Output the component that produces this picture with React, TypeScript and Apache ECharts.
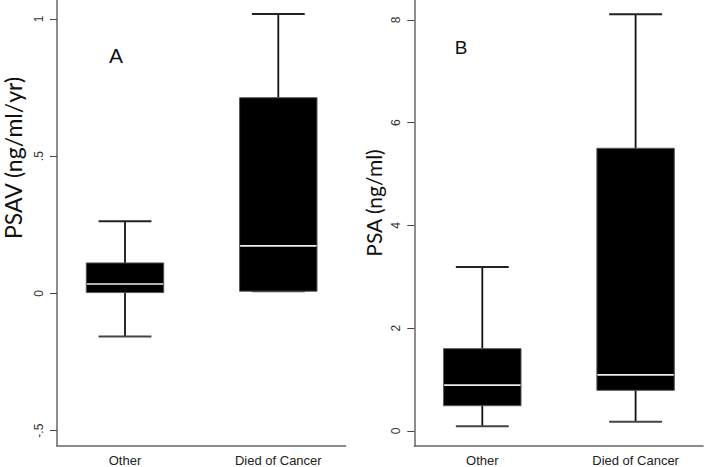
import React, { useEffect, useRef } from "react";
import * as echarts from "echarts";

const categories = ["Other", "Died of Cancer"];
const categoryPositions = [0, 1];

// [min, Q1, median, Q3, max]
const psavStats = [
  [-0.157, 0.003, 0.034, 0.111, 0.263],
  [0.008, 0.008, 0.173, 0.713, 1.018],
];
const psaStats = [
  [0.09, 0.49, 0.89, 1.6, 3.19],
  [0.18, 0.79, 1.09, 5.5, 8.11],
];

const psavTickValues = [-0.5, 0, 0.5, 1];
const psavTickLabels = ["-.5", "0", ".5", "1"];
const psaTickValues = [0, 2, 4, 6, 8];
const psaTickLabels = ["0", "2", "4", "6", "8"];

const psavTitle = "PSAV (ng/ml/yr)";
const psaTitle = "PSA (ng/ml)";
const panelLabels = ["A", "B"];

const renderBox = (params: any, api: any) => {
  const x = api.value(0);
  const pMin = api.coord([x, api.value(1)]);
  const pQ1 = api.coord([x, api.value(2)]);
  const pMed = api.coord([x, api.value(3)]);
  const pQ3 = api.coord([x, api.value(4)]);
  const pMax = api.coord([x, api.value(5)]);
  const unit = api.size([1, 0])[0];
  const boxW = unit * 0.505;
  const capW = unit * 0.345;
  const cx = pMed[0];
  return {
    type: "group",
    children: [
      {
        type: "line",
        shape: { x1: cx, y1: pMax[1], x2: cx, y2: pQ3[1] },
        style: { stroke: "#111", lineWidth: 1.8 },
      },
      {
        type: "line",
        shape: { x1: cx, y1: pMin[1], x2: cx, y2: pQ1[1] },
        style: { stroke: "#111", lineWidth: 1.8 },
      },
      {
        type: "line",
        shape: { x1: cx - capW / 2, y1: pMax[1], x2: cx + capW / 2, y2: pMax[1] },
        style: { stroke: "#222", lineWidth: 2 },
      },
      {
        type: "line",
        shape: { x1: cx - capW / 2, y1: pMin[1], x2: cx + capW / 2, y2: pMin[1] },
        style: { stroke: "#444", lineWidth: 2 },
      },
      {
        type: "rect",
        shape: { x: cx - boxW / 2, y: pQ3[1], width: boxW, height: pQ1[1] - pQ3[1] },
        style: { fill: "#000", stroke: "#555", lineWidth: 1 },
      },
      {
        type: "line",
        shape: { x1: cx - boxW / 2 + 0.5, y1: pMed[1], x2: cx + boxW / 2 - 0.5, y2: pMed[1] },
        style: { stroke: "#eeeeee", lineWidth: 1.6 },
      },
    ],
  };
};

const buildData = (stats: number[][]) =>
  stats.map((s, i) => [categoryPositions[i], ...s]);

const xAxisBase = (gridIndex: number) => ({
  type: "value",
  gridIndex,
  min: -0.4436,
  max: 1.4397,
  axisLine: { show: true, onZero: false, lineStyle: { color: "#666", width: 1.5 } },
  axisTick: { show: false },
  splitLine: { show: false },
  axisLabel: {
    customValues: categoryPositions,
    formatter: (v: number) => categories[Math.round(v)] ?? "",
    fontFamily: "Liberation Sans",
    fontSize: 13,
    color: "#222",
    margin: 8,
  },
});

export default function App() {
  const ref = useRef<HTMLDivElement>(null);
  useEffect(() => {
    if (!ref.current) return;
    const chart = echarts.init(ref.current, undefined, { renderer: "svg" });
    chart.setOption({
      animation: false,
      backgroundColor: "#fff",
      grid: [
        { left: 57, top: 0, width: 288.7, height: 448.5 },
        { left: 414.3, top: 0, width: 288.7, height: 448.5 },
      ],
      xAxis: [xAxisBase(0), xAxisBase(1)],
      yAxis: [
        {
          type: "value",
          gridIndex: 0,
          min: -0.556,
          max: 1.069,
          axisLine: { show: true, onZero: false, lineStyle: { color: "#666", width: 1.5 } },
          axisTick: { show: true, customValues: psavTickValues, length: 7, lineStyle: { color: "#444", width: 1 } },
          splitLine: { show: false },
          axisLabel: {
            customValues: psavTickValues,
            formatter: (v: number) => psavTickLabels[psavTickValues.indexOf(v)] ?? "",
            rotate: 90,
            fontFamily: "Liberation Sans",
            fontSize: 12,
            color: "#333",
            margin: 12,
          },
        },
        {
          type: "value",
          gridIndex: 1,
          min: -0.294,
          max: 8.386,
          axisLine: { show: true, onZero: false, lineStyle: { color: "#666", width: 1.5 } },
          axisTick: { show: true, customValues: psaTickValues, length: 7, lineStyle: { color: "#444", width: 1 } },
          splitLine: { show: false },
          axisLabel: {
            customValues: psaTickValues,
            formatter: (v: number) => psaTickLabels[psaTickValues.indexOf(v)] ?? "",
            rotate: 90,
            fontFamily: "Liberation Sans",
            fontSize: 12,
            color: "#333",
            margin: 12,
          },
        },
      ],
      series: [
        {
          type: "custom",
          xAxisIndex: 0,
          yAxisIndex: 0,
          renderItem: renderBox,
          encode: { x: 0, y: [1, 2, 3, 4, 5] },
          data: buildData(psavStats),
        },
        {
          type: "custom",
          xAxisIndex: 1,
          yAxisIndex: 1,
          renderItem: renderBox,
          encode: { x: 0, y: [1, 2, 3, 4, 5] },
          data: buildData(psaStats),
        },
      ],
      graphic: [
        {
          type: "text",
          x: 13,
          y: 158,
          rotation: Math.PI / 2,
          style: {
            text: psavTitle,
            fontFamily: "Lato",
            fontSize: 23,
            fill: "#111",
            align: "center",
            verticalAlign: "middle",
          },
        },
        {
          type: "text",
          x: 373,
          y: 203,
          rotation: Math.PI / 2,
          style: {
            text: psaTitle,
            fontFamily: "Lato",
            fontSize: 21,
            fill: "#111",
            align: "center",
            verticalAlign: "middle",
          },
        },
        {
          type: "text",
          x: 116,
          y: 55,
          style: {
            text: panelLabels[0],
            fontFamily: "Liberation Sans",
            fontSize: 21,
            fill: "#111",
            align: "center",
            verticalAlign: "middle",
          },
        },
        {
          type: "text",
          x: 461,
          y: 47,
          style: {
            text: panelLabels[1],
            fontFamily: "Liberation Sans",
            fontSize: 19,
            fill: "#111",
            align: "center",
            verticalAlign: "middle",
          },
        },
      ],
    });
    return () => chart.dispose();
  }, []);
  return (
    <div
      ref={ref}
      style={{ position: "fixed", left: 0, top: 0, width: 704, height: 467 }}
    />
  );
}
